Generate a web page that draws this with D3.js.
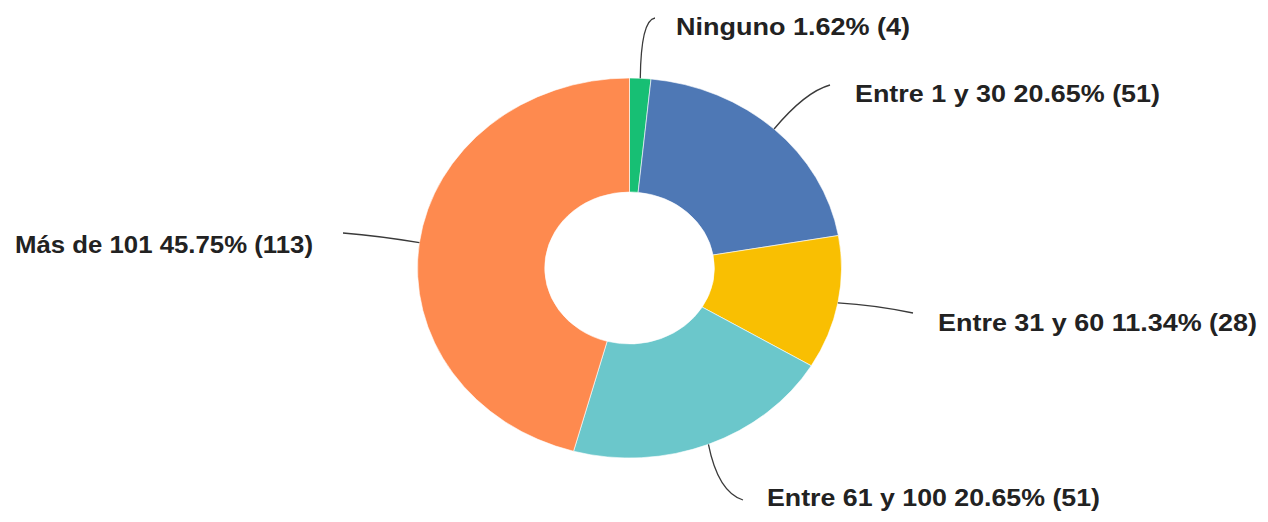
<!DOCTYPE html>
<html>
<head>
<meta charset="utf-8">
<script src="https://cdn.jsdelivr.net/npm/d3@7"></script>
<style>
  html, body { margin: 0; padding: 0; background: #ffffff; }
  svg { display: block; }
  text { font-family: "Liberation Sans", Arial, sans-serif; font-weight: bold; }
</style>
</head>
<body>
<svg id="chart" width="1268" height="522"></svg>
<script>
// ---- data ----
const categories = ["Ninguno", "Entre 1 y 30", "Entre 31 y 60", "Entre 61 y 100", "Más de 101"];
const counts = [4, 51, 28, 51, 113];
const percentLabels = ["1.62%", "20.65%", "11.34%", "20.65%", "45.75%"];
const colors = ["#17bf74", "#4e78b5", "#f9bf02", "#6bc7cb", "#fe8a4f"];

// ---- layout ----
const W = 1268, H = 522;
const cx = 629.5, cy = 268;
const outerR = 190, innerR = 76;
const sx = 212 / 190; // horizontal stretch of the ellipse
// label layout: leader end point, control point, text anchor/pos, target text width
const labelLayout = [
  { ex: 655, ey: 18,  qx: 641, qy: 20,  tx: 676, ty: 35,  anchor: "start", w: 234 },
  { ex: 830, ey: 85,  qx: 805, qy: 92,  tx: 855, ty: 102, anchor: "start", w: 305 },
  { ex: 913, ey: 313, qx: 875, qy: 305, tx: 938, ty: 331, anchor: "start", w: 319 },
  { ex: 743, ey: 500, qx: 718, qy: 492, tx: 767, ty: 506, anchor: "start", w: 333 },
  { ex: 343, ey: 233, qx: 380, qy: 236, tx: 313, ty: 253, anchor: "end",   w: 298 }
];

const svg = d3.select("#chart");

const data = categories.map((c, i) => ({ cat: c, value: counts[i], pct: percentLabels[i], color: colors[i], i }));

const pie = d3.pie().value(d => d.value).sort(null).startAngle(0).endAngle(2 * Math.PI);
const arcs = pie(data);
const arc = d3.arc().innerRadius(innerR).outerRadius(outerR);

const g = svg.append("g").attr("transform", `translate(${cx},${cy}) scale(${sx},1)`);
g.selectAll("path.slice")
  .data(arcs)
  .enter().append("path")
  .attr("class", "slice")
  .attr("d", arc)
  .attr("fill", d => d.data.color)
  .attr("stroke", "#ffffff")
  .attr("stroke-width", 0.6)
  .attr("vector-effect", "non-scaling-stroke");

// leader lines
const leaders = svg.append("g");
arcs.forEach((a, k) => {
  const L = labelLayout[k];
  const mid = (a.startAngle + a.endAngle) / 2;
  const x0 = cx + sx * outerR * Math.sin(mid);
  const y0 = cy - outerR * Math.cos(mid);
  const p = d3.path();
  p.moveTo(x0, y0);
  p.quadraticCurveTo(L.qx, L.qy, L.ex, L.ey);
  leaders.append("path")
    .attr("d", p.toString())
    .attr("fill", "none")
    .attr("stroke", "#3a3a3a")
    .attr("stroke-width", 1.3);
});

// labels
const labels = svg.append("g");
arcs.forEach((a, k) => {
  const L = labelLayout[k];
  labels.append("text")
    .attr("x", L.tx)
    .attr("y", L.ty)
    .attr("text-anchor", L.anchor)
    .attr("font-size", 23)
    .attr("fill", "#222222")
    .attr("textLength", L.w)
    .attr("lengthAdjust", "spacingAndGlyphs")
    .text(`${a.data.cat} ${a.data.pct} (${a.data.value})`);
});
</script>
</body>
</html>
